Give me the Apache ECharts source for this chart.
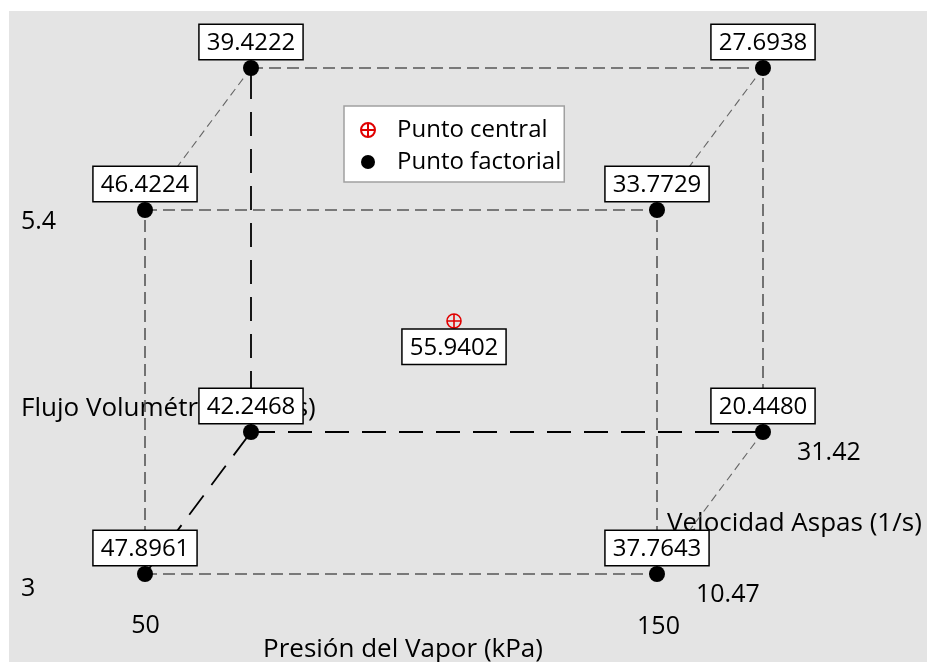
<!DOCTYPE html>
<html>
<head>
<meta charset="utf-8">
<script src="https://cdn.jsdelivr.net/npm/echarts@6/dist/echarts.min.js"></script>
<style>
  html, body { margin: 0; padding: 0; background: #fff; }
  #chart { width: 927px; height: 662px; }
</style>
</head>
<body>
<div id="chart"></div>
<script>
// Factor levels of the 2^3 design
const pressureLevels = [50, 150];      // Presión del Vapor (kPa)
const flowLevels = [3, 5.4];           // Flujo Volumétrico
const speedLevels = [10.47, 31.42];    // Velocidad Aspas (1/s)

// Factorial runs (corners of the cube) and their mean responses
const runPressure = [50, 150, 50, 150, 50, 150, 50, 150];
const runFlow     = [3, 3, 5.4, 5.4, 3, 3, 5.4, 5.4];
const runSpeed    = [10.47, 10.47, 10.47, 10.47, 31.42, 31.42, 31.42, 31.42];
const runResponse = [47.8961, 37.7643, 46.4224, 33.7729, 42.2468, 20.4480, 39.4222, 27.6938];

// Center point
const centerPressure = [100];
const centerFlow = [4.2];
const centerSpeed = [20.945];
const centerResponse = [55.9402];

const axisNames = ['Presión del Vapor (kPa)', 'Flujo Volumétrico (m3/s)', 'Velocidad Aspas (1/s)'];
const seriesNames = ['Punto central', 'Punto factorial'];

// Cube edges (pairs of run indices) grouped by drawing style
const frontEdges = [[0, 1], [2, 3], [0, 2], [1, 3], [6, 7], [5, 7]];
const depthEdges = [[2, 6], [3, 7], [1, 5]];
const hiddenEdges = [[4, 5], [4, 6], [0, 4]];

// Oblique projection: the speed factor is drawn as depth
const DEPTH_X = 106 / 256;
const DEPTH_Y = 142 / 182;
const coded = (v, lv) => (2 * v - lv[0] - lv[1]) / (lv[1] - lv[0]);
function project(p, f, s) {
  const d = (coded(s, speedLevels) + 1) / 2;
  return [coded(p, pressureLevels) + d * DEPTH_X, coded(f, flowLevels) + d * DEPTH_Y];
}

const corners = runPressure.map((p, i) => project(p, runFlow[i], runSpeed[i]));
const centers = centerPressure.map((p, i) => project(p, centerFlow[i], centerSpeed[i]));

const FONT = 'Open Sans';

function edgeSeries(edges, style) {
  return edges.map(e => ({
    type: 'line',
    silent: true,
    symbol: 'none',
    z: 1,
    lineStyle: style,
    data: [corners[e[0]], corners[e[1]]]
  }));
}

const boxLabel = {
  show: true,
  fontFamily: FONT,
  fontSize: 24,
  lineHeight: 26,
  color: '#000',
  opacity: 1,
  backgroundColor: '#fff',
  borderColor: '#000',
  borderWidth: 1.5,
  padding: [5, 7, 3, 7],
  formatter: p => p.value[2].toFixed(4)
};

const centerIcon = 'path://M0,10A10,10 0 1,1 20,10A10,10 0 1,1 0,10ZM10,0L10,20M0,10L20,10';

const chart = echarts.init(document.getElementById('chart'), null, { renderer: 'canvas' });

const option = {
  animation: false,
  backgroundColor: '#fff',
  grid: {
    show: true, backgroundColor: '#e4e4e4', borderWidth: 0,
    left: 9, top: 11, right: 0, bottom: 0
  },
  xAxis: { type: 'value', show: false, min: -1 - 136 / 256, max: -1 + 782 / 256 },
  yAxis: { type: 'value', show: false, min: -1 - 88 / 182, max: -1 + 563 / 182 },
  legend: {
    orient: 'vertical',
    left: 344, top: 106,
    padding: [11, 3, 7, 16],
    backgroundColor: '#fff',
    borderColor: '#a0a0a0',
    borderWidth: 1.5,
    borderRadius: 0,
    itemWidth: 40, itemHeight: 14, itemGap: 6,
    textStyle: { fontFamily: FONT, fontSize: 24, color: '#000', lineHeight: 26, padding: [0, 0, 0, 4] },
    data: [
      { name: seriesNames[0], icon: centerIcon },
      { name: seriesNames[1], icon: 'circle' }
    ]
  },
  series: [
    ...edgeSeries(frontEdges, { color: '#555', width: 1.6, type: [12, 6] }),
    ...edgeSeries(depthEdges, { color: '#666', width: 1.1, type: [8, 5] }),
    ...edgeSeries(hiddenEdges, { color: '#000', width: 1.8, type: [24, 13] }),
    {
      name: seriesNames[0],
      type: 'scatter',
      z: 3,
      symbol: centerIcon,
      symbolSize: 14,
      itemStyle: { color: 'rgba(0,0,0,0)', borderColor: '#e00000', borderWidth: 1.6, opacity: 1 },
      label: Object.assign({}, boxLabel, { position: 'bottom', distance: 1 }),
      data: centers.map((c, i) => [c[0], c[1], centerResponse[i]])
    },
    {
      name: seriesNames[1],
      type: 'scatter',
      z: 3,
      symbol: 'circle',
      symbolSize: 16,
      itemStyle: { color: '#000', opacity: 1 },
      label: Object.assign({}, boxLabel, { position: 'top', distance: 1 }),
      data: corners.map((c, i) => [c[0], c[1], runResponse[i]])
    }
  ]
};

chart.setOption(option);

// Axis level labels and factor names placed next to the cube corners
const px = pt => chart.convertToPixel({ gridIndex: 0 }, pt);
const fbl = px(corners[0]), fbr = px(corners[1]), ftl = px(corners[2]);
const bbr = px(corners[5]);
function txt(text, x, y, size, align) {
  return {
    type: 'text', z: 0, zlevel: 0, silent: true,
    x: x, y: y,
    style: {
      text: text, align: align || 'left', verticalAlign: 'middle',
      font: size + 'px "' + FONT + '"', fill: '#000'
    }
  };
}
chart.setOption({
  graphic: [
    txt(String(pressureLevels[0]), fbl[0] + 0.5, fbl[1] + 52, 25, 'center'),
    txt(String(pressureLevels[1]), fbr[0] + 1.5, fbr[1] + 53, 25, 'center'),
    txt(axisNames[0], (fbl[0] + fbr[0]) / 2 + 2, fbl[1] + 76, 26, 'center'),
    txt(String(flowLevels[1]), 21, ftl[1] + 12, 25),
    txt(String(flowLevels[0]), 21, fbl[1] + 15, 25),
    txt(axisNames[1], 21, (fbl[1] + ftl[1]) / 2 + 17, 26),
    txt(String(speedLevels[0]), fbr[0] + 39, fbr[1] + 21, 25),
    txt(String(speedLevels[1]), bbr[0] + 34, bbr[1] + 21, 25),
    txt(axisNames[2], (fbr[0] + bbr[0]) / 2 - 43, (fbr[1] + bbr[1]) / 2 + 21, 26)
  ]
});
</script>
</body>
</html>
